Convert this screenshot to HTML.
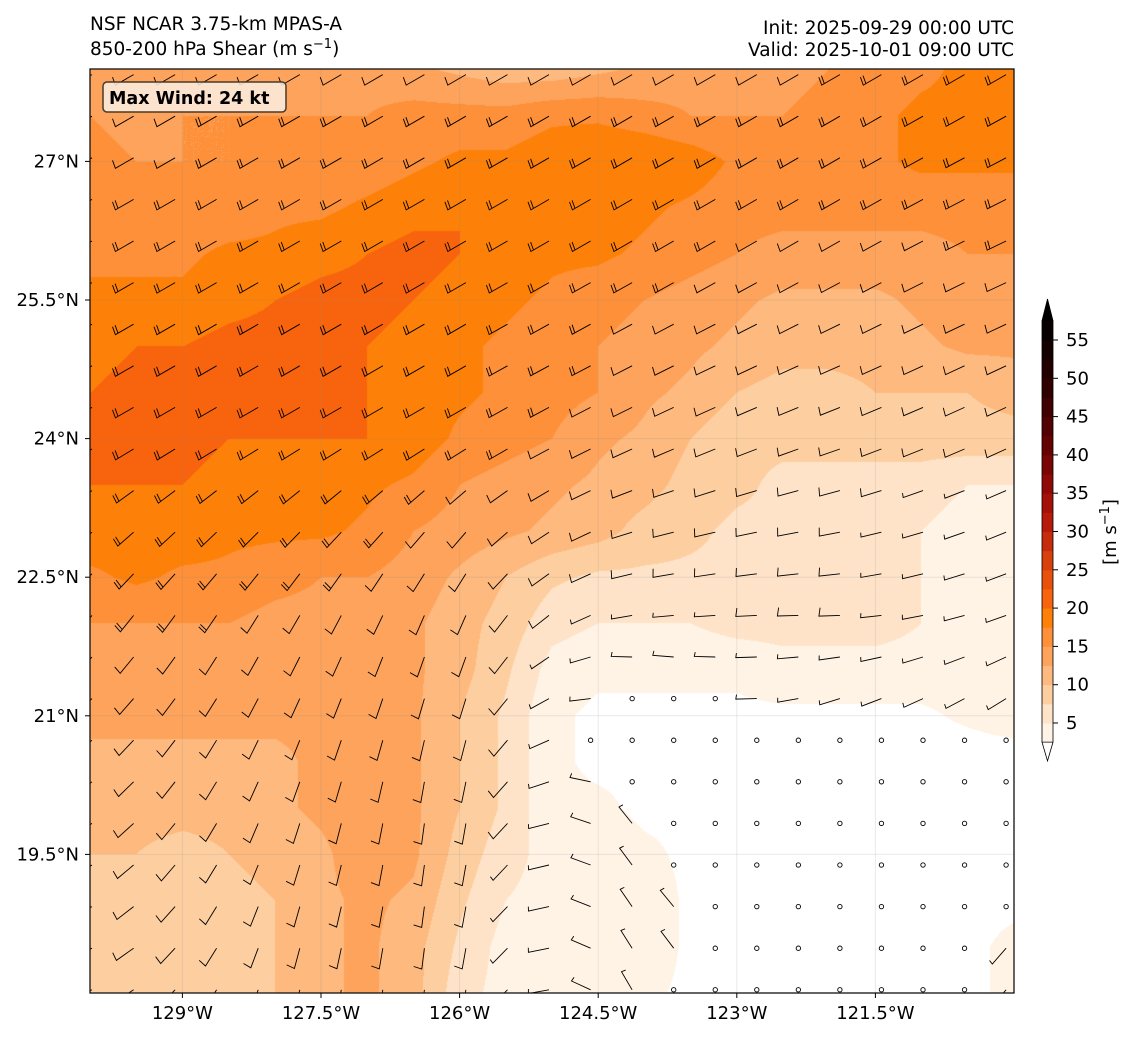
<!DOCTYPE html>
<html><head><meta charset="utf-8">
<style>
body{margin:0;background:#fff;width:1137px;height:1037px;overflow:hidden;font-family:"DejaVu Sans","Liberation Sans",sans-serif;}
#wrap{position:relative;width:1137px;height:1037px;}
canvas{position:absolute;left:90px;top:69px;}
svg{position:absolute;left:0;top:0;}
</style></head><body>
<div id="wrap">
<canvas id="field" width="924" height="924"></canvas>
<svg id="ov" width="1137" height="1037">
<defs><clipPath id="pc"><rect x="90" y="69" width="924" height="924"/></clipPath></defs>
<text x="90" y="30" font-size="18.5">NSF NCAR 3.75-km MPAS-A</text>
<text x="90" y="55" font-size="18.5">850-200 hPa Shear (m s<tspan dy="-7" font-size="13">−1</tspan><tspan dy="7">)</tspan></text>
<text x="1014" y="34" font-size="18.5" text-anchor="end">Init: 2025-09-29 00:00 UTC</text>
<text x="1014" y="56" font-size="18.5" text-anchor="end">Valid: 2025-10-01 09:00 UTC</text>
<g id="grid"></g>
<g id="barbs" clip-path="url(#pc)"></g>
<rect x="90" y="69" width="924" height="924" fill="none" stroke="#111" stroke-width="1.3"/>
<g id="ticks"></g>
<g>
<rect x="103" y="82" width="183" height="30" rx="4" fill="#fcefe2" fill-opacity="0.85" stroke="#4a3a2a" stroke-width="1.5"/>
<text x="109" y="104" font-size="17.5" font-weight="bold">Max Wind: 24 kt</text>
</g>
<g id="cbar"></g>
<text transform="translate(1116,532) rotate(-90)" font-size="18" text-anchor="middle">[m s<tspan dy="-7" font-size="13">−1</tspan><tspan dy="7">]</tspan></text>
</svg>
</div>
<script>
// speed grid: rows lat 28 -> 18 (0.5 deg), cols lon -130 -> -120 (0.5 deg)
const speedGrid = [
[14,14,14,13,13,14,14,13,12,11,11,12,13,14,14,14,15,16,17,18,18],
[15,14,15,15,15,15,15,16,16,16,17,17,16,15,15,15,16,17,18,18,18],
[16,15,15,15,16,16,16,17,18,18,19,20,20,19,17,16,16,17,18,18,18],
[17,16,16,16,17,17,18,19,20,20,20,19,18,17,16,16,16,16,16,16,16],
[17,17,17,18,18,19,20,21,20,19,18,18,17,16,15,14,14,14,14,15,15],
[18,18,18,19,20,21,21,20,19,18,17,16,15,14,13,12,12,12,13,14,14],
[19,20,20,21,21,21,20,19,18,17,16,15,14,13,12,11,11,11,12,13,13],
[20,21,21,21,21,21,20,19,18,17,16,15,13,12,10,9,9,10,10,10,11],
[21,21,21,20,20,20,20,19,17,16,15,13,12,10,8,8,8,8,9,9,9],
[20,20,20,19,19,19,18,17,15,14,13,12,11,9,8,7,7,7,6,5,5],
[19,19,19,18,18,18,17,15,14,13,12,11,9,8,7,7,7,6,5,4,4],
[17,18,17,17,16,15,15,14,12,10,8,7,7,7,7,7,6,6,5,4,4],
[15,15,15,15,14,14,14,13,11,9,6,5,5,5,6,6,6,6,5,4,4],
[14,14,14,14,13,14,14,13,11,8,4,3,3,3,3,4,4,4,4,4,3],
[13,13,13,13,13,13,14,13,10,7,3,2,2,2,2,2,2,2,2,3,4],
[12,12,12,12,12,13,14,13,10,7,3,2,2,2,1,1,1,1,1,1,1],
[11,11,11,11,12,13,14,13,10,7,3,3,2,2,1,1,1,1,1,1,1],
[10,10,9,10,11,12,14,13,9,6,4,4,3,2,1,1,1,1,1,1,1],
[9,9,8,9,10,12,13,12,8,5,4,4,4,2,1,1,1,1,1,2,2],
[9,9,9,9,10,12,13,11,7,4,3,4,4,2,1,1,1,1,1,2,3],
[9,9,9,9,10,12,13,11,6,4,3,3,3,2,1,1,1,1,1,2,3]
];
// direction (shaft angle from station, deg, y-up) rows lat 28..18 step 2, cols lon -130..-120 step 2
const dirGrid = [
[210,210,210,210,210,210],
[210,210,210,210,210,205],
[210,210,210,205,200,205],
[230,240,250,185,180,200],
[215,250,265,120,220,230],
[200,255,265,110,200,230]
];
const levels = [2.5,5,7.5,10,12.5,15,17.5,20,22.5,25,27.5,30,32.5,35,37.5,40,42.5,45,47.5,50,52.5,55,57.5];
const colors = ['#ffffff','#fff3e6','#fee3c8','#fdcfa0','#fdb97e','#fda35c','#fd9038','#fd8008','#f8640e','#e8500c','#d8400c','#c62b0c','#b81a0a','#a51008','#8f0a06','#7a0505','#650303','#520202','#400101','#300000','#220000','#140000','#080000','#000000'];
const latTicks = [27,25.5,24,22.5,21,19.5];
const lonTicks = [-129,-127.5,-126,-124.5,-123,-121.5];

const X0=90,Y0=69,W=924,H=924,LON0=-130,LON1=-120,LAT0=28,LAT1=18;
const xs = lon => X0+(lon-LON0)/(LON1-LON0)*W;
const ys = lat => Y0+(LAT0-lat)/(LAT0-LAT1)*H;
function interp(g,fx,fy){
  const R=g.length-1,C=g[0].length-1;
  let x=Math.max(0,Math.min(C,fx*C)),y=Math.max(0,Math.min(R,fy*R));
  let i=Math.min(R-1,Math.floor(y)),j=Math.min(C-1,Math.floor(x));
  const ty=y-i,tx=x-j;
  return g[i][j]*(1-tx)*(1-ty)+g[i][j+1]*tx*(1-ty)+g[i+1][j]*(1-tx)*ty+g[i+1][j+1]*tx*ty;
}
function hex(c){return [parseInt(c.slice(1,3),16),parseInt(c.slice(3,5),16),parseInt(c.slice(5,7),16)];}
const cv=document.getElementById('field'),ctx=cv.getContext('2d');
const img=ctx.createImageData(W,H);
const rgb=colors.map(hex);
for(let py=0;py<H;py++){for(let px=0;px<W;px++){
  const v=interp(speedGrid,px/(W-1),py/(H-1));
  let k=0;while(k<levels.length&&v>=levels[k])k++;
  const c=rgb[k],o=(py*W+px)*4;img.data[o]=c[0];img.data[o+1]=c[1];img.data[o+2]=c[2];img.data[o+3]=255;}}
ctx.putImageData(img,0,0);
const NS='http://www.w3.org/2000/svg';
function mk(tag,attrs,parent){const e=document.createElementNS(NS,tag);for(const k in attrs)e.setAttribute(k,attrs[k]);parent.appendChild(e);return e;}
const gg=document.getElementById('grid');
latTicks.forEach(lat=>{const l=mk('line',{x1:X0,x2:X0+W,y1:ys(lat),y2:ys(lat),stroke:'#888','stroke-opacity':0.18,'stroke-width':1},gg);

});
lonTicks.forEach(lon=>{const l=mk('line',{y1:Y0,y2:Y0+H,x1:xs(lon),x2:xs(lon),stroke:'#888','stroke-opacity':0.18,'stroke-width':1},gg);

});
const tg=document.getElementById('ticks');
latTicks.forEach(lat=>{const y=ys(lat);
 mk('line',{x1:X0-5,x2:X0,y1:y,y2:y,stroke:'#000'},tg);
 const t=mk('text',{x:79,y:y+6,'font-size':18,'text-anchor':'end'},tg);t.textContent=lat+'°N';
 
 });
lonTicks.forEach(lon=>{const x=xs(lon);
 mk('line',{x1:x,x2:x,y1:Y0+H,y2:Y0+H+5,stroke:'#000'},tg);
 const t=mk('text',{x:x,y:1019,'font-size':18,'text-anchor':'middle'},tg);t.textContent=Math.abs(lon)+'°W';
 
 });
const bg=document.getElementById('barbs');
for(let r=0;r<23;r++){for(let c=0;c<23;c++){
  const sx=92+c*41.55, sy=74.6+r*41.6;
  if(sx<X0-2||sx>X0+W+2||sy<Y0||sy>Y0+H+2)continue;
  const fx=(sx-X0)/W,fy=(sy-Y0)/H;
  const sp=interp(speedGrid,fx,fy);
  let el;
  if(sp<2.5){el=mk('circle',{cx:sx,cy:sy,r:2.2,fill:'none',stroke:'#000','stroke-width':0.9},bg);}
  else{
   const a=interp(dirGrid,fx,fy)*Math.PI/180;
   const L=21,vx=sx+L*Math.cos(a),vy=sy-L*Math.sin(a);
   const fa=a-100*Math.PI/180;
   const fl=sp<6?4.5:8.5;
   let d='M'+sx.toFixed(1)+' '+sy.toFixed(1)+'L'+vx.toFixed(1)+' '+vy.toFixed(1);
   d+='l'+(fl*Math.cos(fa)).toFixed(1)+' '+(-fl*Math.sin(fa)).toFixed(1);
   if(sp>=15){const ox=vx-3*Math.cos(a),oy=vy+3*Math.sin(a);
     d+='M'+ox.toFixed(1)+' '+oy.toFixed(1)+'l'+(fl*Math.cos(fa)).toFixed(1)+' '+(-fl*Math.sin(fa)).toFixed(1);}
   el=mk('path',{d:d,fill:'none',stroke:'#000','stroke-width':0.9},bg);
  }
  
  
}}
const cb=document.getElementById('cbar');
const cby=v=>723-(v-5)*7.66;
for(let k=0;k<levels.length-1;k++){
  const r=mk('rect',{x:1042,y:cby(levels[k+1]),width:11,height:cby(levels[k])-cby(levels[k+1])+0.5,fill:colors[k+1]},cb);
  
  
}
const lo=mk('path',{d:`M1042 ${cby(2.5)}L1053 ${cby(2.5)}L1047.5 761Z`,fill:colors[0],stroke:'#000','stroke-width':0.8},cb);


const hi=mk('path',{d:`M1042 ${cby(57.5)}L1053 ${cby(57.5)}L1047.5 299Z`,fill:'#000',stroke:'#000','stroke-width':0.8},cb);


mk('path',{d:`M1042 ${cby(2.5)}L1042 ${cby(57.5)}M1053 ${cby(2.5)}L1053 ${cby(57.5)}`,stroke:'#000','stroke-width':0.8,fill:'none'},cb);
for(let v=5;v<=55;v+=5){const y=cby(v);
 mk('line',{x1:1053,x2:1058,y1:y,y2:y,stroke:'#000'},cb);
 const t=mk('text',{x:1066,y:y+6,'font-size':18},cb);t.textContent=v;
 
 }
</script>
</body></html>
